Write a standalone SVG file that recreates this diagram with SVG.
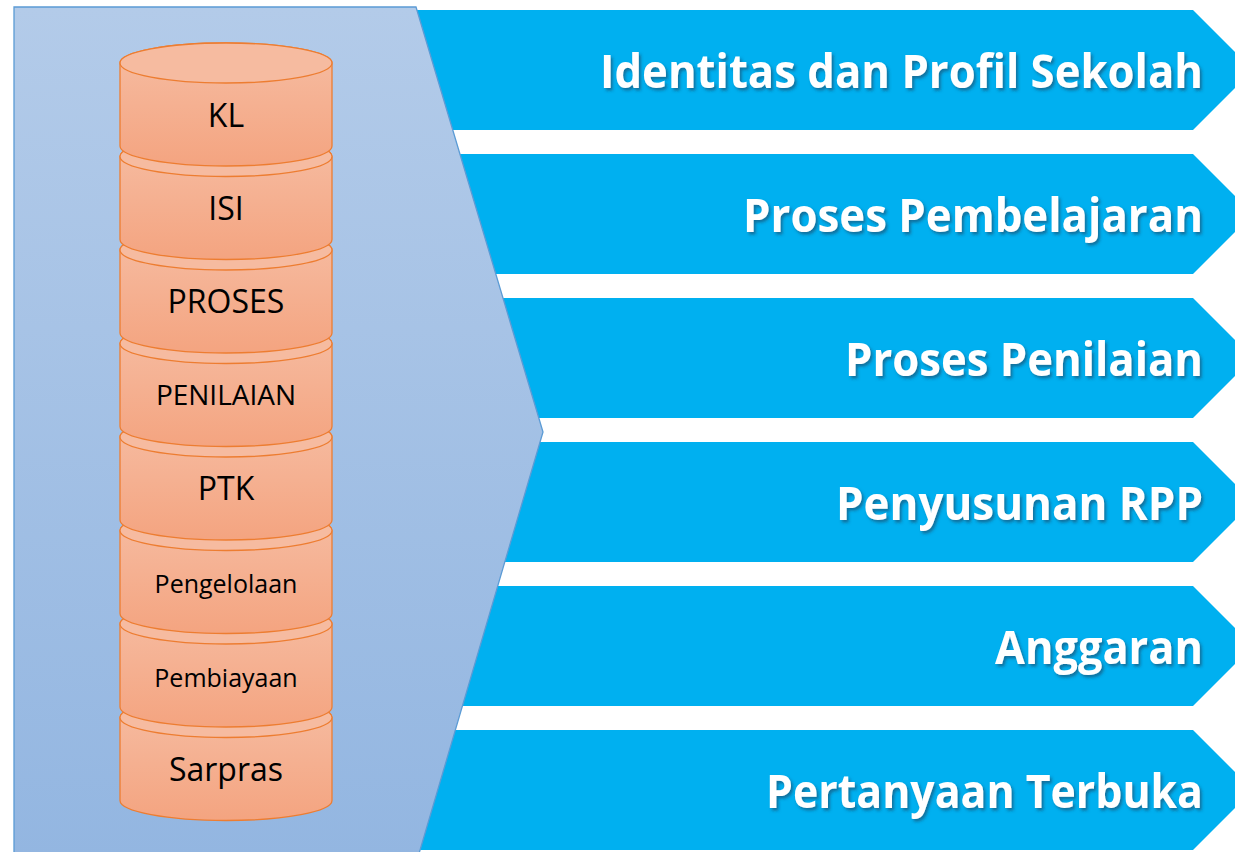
<svg xmlns="http://www.w3.org/2000/svg" width="1235" height="852" viewBox="0 0 1235 852">
  <defs>
    <linearGradient id="panelGrad" x1="0" y1="0" x2="0" y2="1">
      <stop offset="0" stop-color="#b3cbe9"/>
      <stop offset="1" stop-color="#93b6e1"/>
    </linearGradient>
    <linearGradient id="cylGrad" x1="0" y1="0" x2="0" y2="1">
      <stop offset="0" stop-color="#f6bda3"/>
      <stop offset="1" stop-color="#f4a480"/>
    </linearGradient>
    <filter id="shadow" x="-5%" y="-20%" width="110%" height="150%">
      <feDropShadow dx="2" dy="2.5" stdDeviation="1.5" flood-color="#1a3a55" flood-opacity="0.55"/>
    </filter>
  </defs>
  <style>
    .band { fill: #00b0f0; }
    .title { font-family: "Open Sans", "DejaVu Sans", sans-serif; font-weight: bold; font-size: 46px; fill: #ffffff; text-anchor: end; filter: url(#shadow); }
    .body { fill: url(#cylGrad); stroke: #ed7d31; stroke-width: 1.3; }
    .top { fill: #f6bba0; stroke: #ed7d31; stroke-width: 1.3; }
    .lbl { font-family: "Open Sans", "DejaVu Sans", sans-serif; fill: #000000; text-anchor: middle; }
  </style>
  <rect width="1235" height="852" fill="#ffffff"/>

  <g id="bands">
    <g id="band1"><polygon class="band" points="400,10 1193,10 1253,70 1193,130 400,130"/>
      <text class="title" x="1203" y="88" textLength="603" lengthAdjust="spacingAndGlyphs">Identitas dan Profil Sekolah</text></g>
    <g id="band2"><polygon class="band" points="400,154 1193,154 1253,214 1193,274 400,274"/>
      <text class="title" x="1203" y="232" textLength="460" lengthAdjust="spacingAndGlyphs">Proses Pembelajaran</text></g>
    <g id="band3"><polygon class="band" points="400,298 1193,298 1253,358 1193,418 400,418"/>
      <text class="title" x="1203" y="376" textLength="358" lengthAdjust="spacingAndGlyphs">Proses Penilaian</text></g>
    <g id="band4"><polygon class="band" points="400,442 1193,442 1253,502 1193,562 400,562"/>
      <text class="title" x="1203" y="520" textLength="367" lengthAdjust="spacingAndGlyphs">Penyusunan RPP</text></g>
    <g id="band5"><polygon class="band" points="400,586 1193,586 1253,646 1193,706 400,706"/>
      <text class="title" x="1203" y="664" textLength="208" lengthAdjust="spacingAndGlyphs">Anggaran</text></g>
    <g id="band6"><polygon class="band" points="400,730 1193,730 1253,790 1193,850 400,850"/>
      <text class="title" x="1203" y="808" textLength="437" lengthAdjust="spacingAndGlyphs">Pertanyaan Terbuka</text></g>
  </g>

  <g id="panel">
    <polygon points="14,7 416,7 543,432 418,857 14,857" fill="url(#panelGrad)" stroke="#5b9bd5" stroke-width="1.3"/>
  </g>

  <g id="cylinders">
    <g id="cyl-sarpras">
      <path class="body" d="M120,717.5 V800.5 A106,20 0 0 0 332,800.5 V717.5 A106,20 0 0 0 120,717.5 Z"/>
      <ellipse class="top" cx="226" cy="717.5" rx="106" ry="20"/>
      <text class="lbl" x="226" y="781" font-size="32">Sarpras</text>
    </g>
    <g id="cyl-pembiayaan">
      <path class="body" d="M120,624 V707 A106,20 0 0 0 332,707 V624 A106,20 0 0 0 120,624 Z"/>
      <ellipse class="top" cx="226" cy="624" rx="106" ry="20"/>
      <text class="lbl" x="226" y="687" font-size="25">Pembiayaan</text>
    </g>
    <g id="cyl-pengelolaan">
      <path class="body" d="M120,530.5 V613.5 A106,20 0 0 0 332,613.5 V530.5 A106,20 0 0 0 120,530.5 Z"/>
      <ellipse class="top" cx="226" cy="530.5" rx="106" ry="20"/>
      <text class="lbl" x="226" y="593" font-size="25">Pengelolaan</text>
    </g>
    <g id="cyl-ptk">
      <path class="body" d="M120,437 V520 A106,20 0 0 0 332,520 V437 A106,20 0 0 0 120,437 Z"/>
      <ellipse class="top" cx="226" cy="437" rx="106" ry="20"/>
      <text class="lbl" x="226" y="500" font-size="32">PTK</text>
    </g>
    <g id="cyl-penilaian">
      <path class="body" d="M120,343.5 V426.5 A106,20 0 0 0 332,426.5 V343.5 A106,20 0 0 0 120,343.5 Z"/>
      <ellipse class="top" cx="226" cy="343.5" rx="106" ry="20"/>
      <text class="lbl" x="226" y="405" font-size="28">PENILAIAN</text>
    </g>
    <g id="cyl-proses">
      <path class="body" d="M120,250 V333 A106,20 0 0 0 332,333 V250 A106,20 0 0 0 120,250 Z"/>
      <ellipse class="top" cx="226" cy="250" rx="106" ry="20"/>
      <text class="lbl" x="226" y="313" font-size="32">PROSES</text>
    </g>
    <g id="cyl-isi">
      <path class="body" d="M120,156.5 V239.5 A106,20 0 0 0 332,239.5 V156.5 A106,20 0 0 0 120,156.5 Z"/>
      <ellipse class="top" cx="226" cy="156.5" rx="106" ry="20"/>
      <text class="lbl" x="226" y="220" font-size="32">ISI</text>
    </g>
    <g id="cyl-kl">
      <path class="body" d="M120,63 V146 A106,20 0 0 0 332,146 V63 A106,20 0 0 0 120,63 Z"/>
      <ellipse class="top" cx="226" cy="63" rx="106" ry="20"/>
      <text class="lbl" x="226" y="127" font-size="32">KL</text>
    </g>
  </g>
  <g id="connectors"/>
</svg>
